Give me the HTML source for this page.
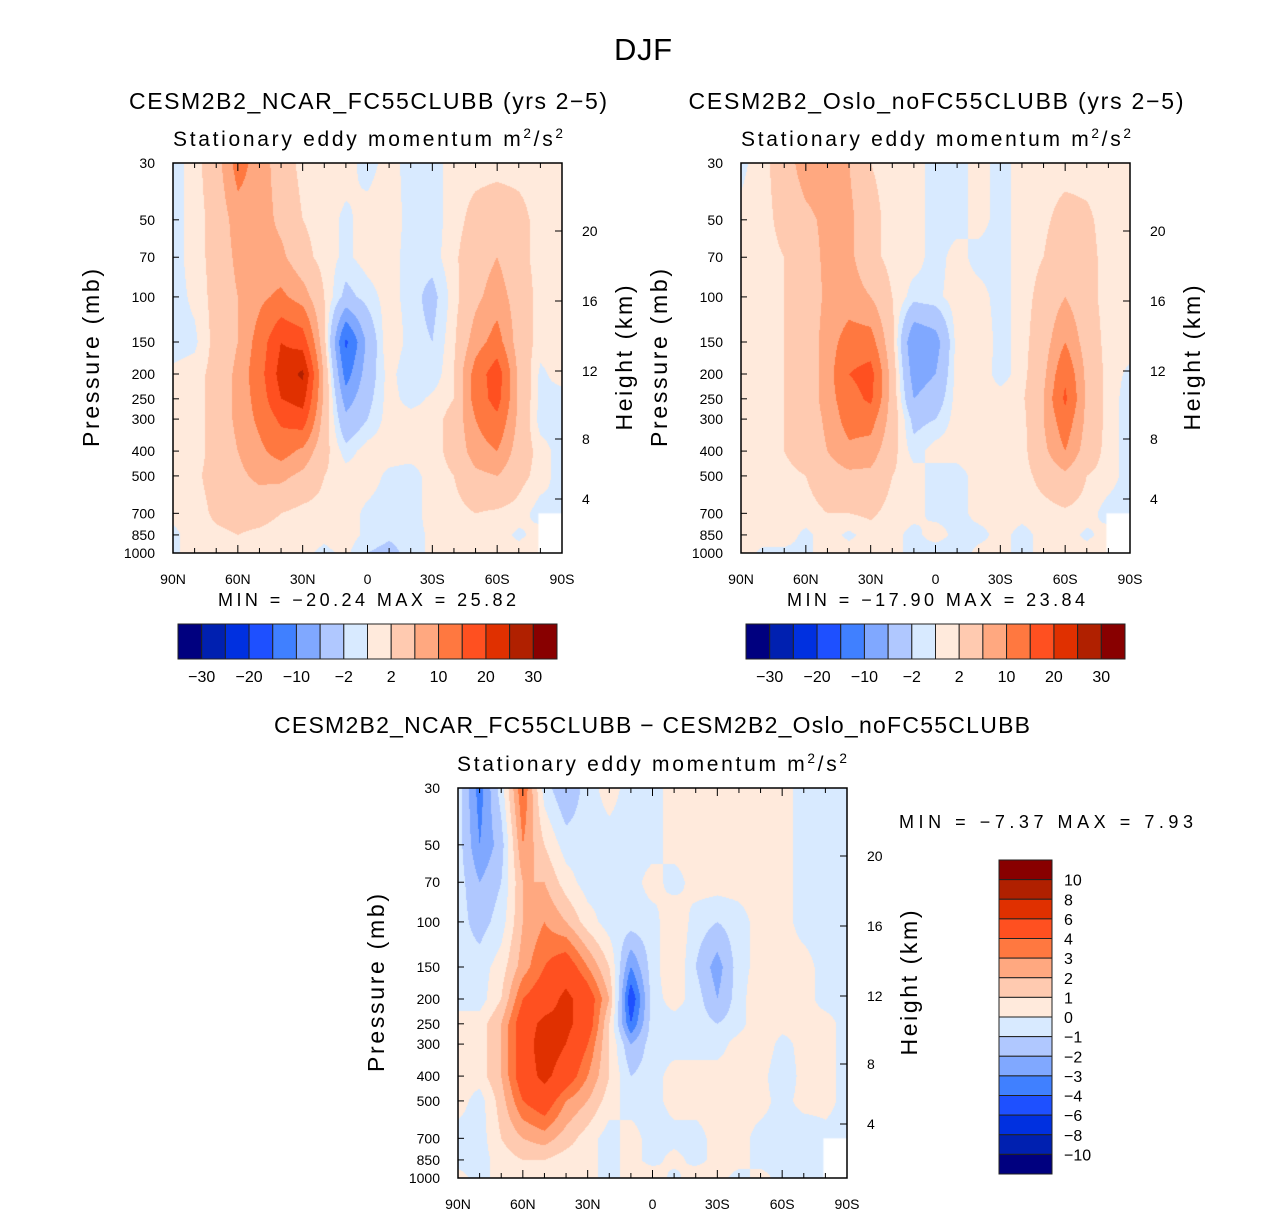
<!DOCTYPE html>
<html><head><meta charset="utf-8">
<style>
body{margin:0;background:#fff;width:1285px;height:1216px;position:relative;overflow:hidden;font-family:"Liberation Sans",sans-serif}
canvas{position:absolute}
svg{position:absolute;left:0;top:0}
</style></head><body>
<canvas id="c1" width="389" height="390" style="left:173px;top:163px"></canvas>
<canvas id="c2" width="389" height="390" style="left:741px;top:163px"></canvas>
<canvas id="c3" width="389" height="390" style="left:458px;top:788px"></canvas>
<svg id="s" width="1285" height="1216"></svg>
<script>
const lats=[90,80,70,60,50,40,30,20,10,0,-10,-20,-30,-40,-50,-60,-70,-80,-90];
const plevs=[30,50,70,100,150,200,250,300,400,500,700,850,1000];
const levels12=[-30,-25,-20,-15,-10,-6,-2,0,2,6,10,15,20,25,30];
const levels3=[-10,-8,-6,-4,-3,-2,-1,0,1,2,3,4,6,8,10];
const cbLabels12=["-30","-20","-10","-2","2","10","20","30"];
const colors=["#00007f","#0020b0","#0030e0","#1e50ff","#4080ff","#80a8ff","#b0c8ff","#d8eaff","#ffeadc","#ffcab0","#ffa880","#ff7840","#ff5020","#e03000","#b02000","#880000"];
const kmTicks=[20,16,12,8,4];
const kmOffsets=[68,138,208,276,336];
const xTickLabels=["90N","60N","30N","0","30S","60S","90S"];
const ncar=[
[-1,1,4,12,8,4,1,1,1,-1,1,-1,-1,1,1,1,1,1,1],
[-1,1,3,8,8,5,2,1,-0.5,1,1.5,-1,-1,1,3,4,3,1,1],
[-1,1,3,7,8,7,3,1,-0.5,1,1,-1,-1,1.5,4,6,3,1,1],
[-1,0.5,3,6,9,11,8,2,-3,-1,1,-1,-3,1,5,8,4,1,1],
[-1,-0.5,3,6,12,20,18,3,-16,-5,2,-1,-2,1.5,8,12,4,1,1],
[0.5,1,3,7,13,22,26,5,-12,-4,1,-2,-1.5,2,12,18,5,-0.5,1],
[1,1,3,7,12,20,22,5,-8,-3,1,-1,0.5,2,12,17,5,-0.5,-1],
[1,1,3,7,11,16,18,4,-5,-2,1,1,1,3,10,14,5,-1,-1],
[1,1,3,6,9,12,9,3,-1,1,1,1,1,3,8,10,4,1,-1],
[0.5,1.5,3,5,7,7,5,2,1,1,-0.5,-1,1,2,5,6,3,1,-1],
[0.5,1,2.5,3,3,2,1,1,1,-0.5,-1,-1,1,1,2,1.5,1,-1,0],
[-0.5,1,1.5,2,1.5,1,1,0.5,1,-0.5,-1.5,-1,0.5,1,1,1,-0.5,1,0],
[-0.5,1,1,1,1,1,0.5,-0.5,0.5,-2,-3,-1,0.5,1,2,1,1,1,0]];
const oslo=[
[-0.5,1,4,8,8,6,2,1,1,-1,-1,1,-1,1,1,1,1,1,1],
[0.5,1,3,5,7,7,3,1,1,-1,-1,1,-1,1,1.5,3,2.5,1,1],
[1,1,2,4,7,7,3,1,1,-1,1,-1,-1,1,2,4,3,1,1],
[1,1,2,3,7,8,6,2,-1,-0.5,1,1,-1,1,3,6,3,1,1],
[1,1,2,3,8,12,12,3,-10,-8,1,2,-1,1,4,10,4,1,1],
[1,1,2,3,8,15,17,4,-8,-6,1,1.5,-1,1,5,14,5,1,-0.5],
[1,1,2,3,8,13,16,4,-6,-4,1,1,1,1.5,6,16,5,1,-1],
[1,1,2,3,7,12,12,4,-3,-2,1,1,1,1,6,13,5,1,-1],
[1,1,2,3,6,9,8,3,-1,1,1,1,1,1,5,10,4,1,-1],
[1,1,1.5,2,4,5,5,2,1,-1,-1,1,1,1,3,5,2,1,-1],
[1,1,1,1,2,2,2.5,1,1,-1,-1,1,1,1,1,1.5,1,-1,-1],
[1,1,1,-0.5,1,-0.5,1,1,-1,1.5,-1,-1,1,-1,1,1,-0.5,1,0],
[1,-0.5,-0.5,-0.5,1,1,1,1,-1,-2,-2,1,1,-1,1,1,1,1,0]];
const diff=[
[-0.5,-3.5,-0.5,4,-0.5,-2,-0.5,0.5,-0.5,-0.5,0.5,0.5,0.5,0.5,0.5,0.5,-0.5,-0.5,-0.5],
[-0.5,-3,-1.5,3,1,-0.5,-0.5,-0.5,-0.5,-0.5,0.5,0.5,0.5,0.5,0.5,0.5,-0.5,-0.5,-0.5],
[-0.5,-2,-1,2,2,0.5,-0.5,-0.5,-0.5,0.5,-0.5,0.5,0.5,0.5,0.5,0.5,-0.5,-0.5,-0.5],
[-0.5,-1.5,-0.5,2,3,2,0.5,-0.5,-0.5,-0.5,1,-0.5,-1,-0.5,0.5,0.5,-0.5,-0.5,-0.5],
[-0.5,-0.5,0.5,2.5,4,5,3,1,-3,-0.5,1,-1,-2.5,-0.5,0.5,0.5,0.5,-0.5,-0.5],
[-0.5,-0.5,1,4,5,6.5,5,2,-5,-0.5,0.5,-0.5,-2,-0.5,1,0.5,0.5,-0.5,-0.5],
[0.5,0.5,2,5,6.5,6.5,5,1,-4,-0.5,-0.5,-0.5,-1,-0.5,1,0.5,0.5,0.5,-0.5],
[0.5,0.5,2,5,7,6,4,1,-2,-0.5,-0.5,-0.5,-0.5,0.5,1,-0.5,0.5,0.5,-0.5],
[0.5,0.5,2,5,6.5,5,3,1,-1,-0.5,0.5,0.5,0.5,0.5,0.5,-1,0.5,0.5,-0.5],
[0.5,-0.5,1.5,4,5,3,2,0.5,-0.5,-0.5,0.5,0.5,0.5,0.5,0.5,-0.5,0.5,0.5,-0.5],
[-0.5,-0.5,1,2,2.5,1.5,0.5,-0.5,0.5,-0.5,-0.5,-0.5,0.5,0.5,-0.5,-0.5,-1,-0.5,-0.5],
[-0.5,-0.5,0.5,1,1,0.5,0.5,-0.5,0.5,-0.5,0.5,-0.5,0.5,0.5,-0.5,-0.5,-0.5,-1,-0.5],
[0.5,-0.5,0.5,0.5,0.5,0.5,0.5,-0.5,0.5,1,-0.5,1,0.5,-0.5,0.5,-0.5,-0.5,-0.5,0]];

const W=389,H=390,LP=Math.log(1000/30);
const yOfP=p=>Math.log(p/30)/LP*H;
const xOfLat=l=>(90-l)/180*W;
function hex(c){return[parseInt(c.substr(1,2),16),parseInt(c.substr(3,2),16),parseInt(c.substr(5,2),16)];}
const rgb=colors.map(hex);
function colorIdx(v,lv){let i=0;while(i<lv.length&&v>=lv[i])i++;return i;}
function drawField(id,data,lv){
  const cv=document.getElementById(id),ctx=cv.getContext('2d');
  const img=ctx.createImageData(W,H);
  const py=plevs.map(yOfP);
  for(let y=0;y<H;y++){
    let r=0;while(r<plevs.length-2&&py[r+1]<y+0.5)r++;
    const fy=Math.min(1,Math.max(0,(y+0.5-py[r])/(py[r+1]-py[r])));
    for(let x=0;x<W;x++){
      const lt=(x+0.5)/W*(lats.length-1);
      let c=Math.min(lats.length-2,Math.floor(lt));const fx=lt-c;
      const v=(data[r][c]*(1-fx)+data[r][c+1]*fx)*(1-fy)+(data[r+1][c]*(1-fx)+data[r+1][c+1]*fx)*fy;
      const k=rgb[colorIdx(v,lv)],o=(y*W+x)*4;
      img.data[o]=k[0];img.data[o+1]=k[1];img.data[o+2]=k[2];img.data[o+3]=255;
    }
  }
  ctx.putImageData(img,0,0);
  ctx.fillStyle='#fff';ctx.fillRect(xOfLat(-80)-2,yOfP(700),W,H);
}
drawField('c1',ncar,levels12);drawField('c2',oslo,levels12);drawField('c3',diff,levels3);

const S=document.getElementById('s'),NS='http://www.w3.org/2000/svg';
function el(t,a,txt){const e=document.createElementNS(NS,t);for(const k in a)e.setAttribute(k,a[k]);if(txt!==undefined)e.textContent=txt;S.appendChild(e);return e;}
function text(x,y,s,size,anchor,name,rot,len){const a={x:x,y:y,'font-size':size,'text-anchor':anchor||'middle',fill:'#000'};if(rot)a.transform='rotate(-90 '+x+' '+y+')';if(len){a.textLength=len;a.lengthAdjust='spacing';}const e=el('text',a,s);return e;}
function sup(x,y,size,name){const e=el('text',{x:x,y:y,'font-size':size,'text-anchor':'middle',textLength:390,lengthAdjust:'spacing'});e.innerHTML='Stationary eddy momentum  m<tspan font-size="'+(size*0.65)+'" dy="-8">2</tspan><tspan dy="8">/s</tspan><tspan font-size="'+(size*0.65)+'" dy="-8">2</tspan>';return e;}
function axes(x0,y0,name){
  const r=el('rect',{x:x0,y:y0,width:W,height:H,fill:'none',stroke:'#000','stroke-width':1.5});
  
  plevs.forEach(p=>{const y=y0+yOfP(p);el('line',{x1:x0,x2:x0+6,y1:y,y2:y,stroke:'#000'});text(x0-18,y+5,String(p),14,'end',name+'-p-label');});
  for(let l=90;l>=-90;l-=10){const x=x0+xOfLat(l),len=l%30==0?8:5;
    el('line',{x1:x,x2:x,y1:y0,y2:y0+len,stroke:'#000'});el('line',{x1:x,x2:x,y1:y0+H,y2:y0+H-len,stroke:'#000'});}
  xTickLabels.forEach((s,i)=>text(x0+i*W/6,y0+H+31,s,14,'middle',name+'-lat-label'));
  kmTicks.forEach((k,i)=>{const y=y0+kmOffsets[i];el('line',{x1:x0+W,x2:x0+W-7,y1:y,y2:y,stroke:'#000'});text(x0+W+20,y+5,String(k),14,'start',name+'-km-label');});
  text(x0-74,y0+195,'Pressure  (mb)',23,'middle',name+'-y-axis-title',true,178);
  text(x0+W+70,y0+195,'Height  (km)',23,'middle',name+'-y2-axis-title',true,145);
}
text(643,60,'DJF',31,'middle','main-title',false,58);
text(368,109,'CESM2B2_NCAR_FC55CLUBB (yrs 2\u22125)',23,'middle','panel1-title',false,478);
text(936,109,'CESM2B2_Oslo_noFC55CLUBB (yrs 2\u22125)',23,'middle','panel2-title',false,495);
text(652,733,'CESM2B2_NCAR_FC55CLUBB \u2212 CESM2B2_Oslo_noFC55CLUBB',23,'middle','panel3-title',false,756);
sup(368,146,21,'panel1-subtitle');sup(936,146,21,'panel2-subtitle');sup(652,771,21,'panel3-subtitle');
axes(173,163,'panel1');axes(741,163,'panel2');axes(458,788,'panel3');
text(367,606,'MIN  =  \u221220.24    MAX  =   25.82',18,'middle','panel1-minmax',false,298);
text(936,606,'MIN  =  \u221217.90    MAX  =   23.84',18,'middle','panel2-minmax',false,298);
text(1046,828,'MIN  =   \u22127.37    MAX  =    7.93',18,'middle','panel3-minmax',false,294);
function hbar(x0,name){const bw=379/16;
  colors.forEach((c,i)=>{const r=el('rect',{x:x0+i*bw,y:624,width:bw,height:35,fill:c,stroke:'#222','stroke-width':1});});
  cbLabels12.forEach((s,i)=>text(x0+(2*i+1)*bw,682,s.replace('-','\u2212'),16,'middle',name+'-label'));}
hbar(178,'colorbar1');hbar(746,'colorbar2');
const bh=314/16;
colors.slice().reverse().forEach((c,i)=>{const r=el('rect',{x:999,y:860+i*bh,width:53,height:bh,fill:c,stroke:'#222','stroke-width':1});});
levels3.slice().reverse().forEach((v,i)=>text(1064,860+(i+1)*bh+6,String(v).replace('-','\u2212'),16,'start','colorbar3-label'));
</script>
</body></html>
